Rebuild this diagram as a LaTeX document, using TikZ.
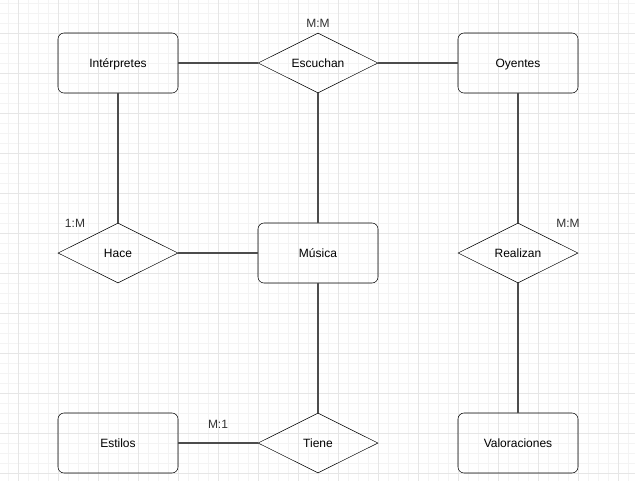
\documentclass[tikz,border=0pt]{standalone}
\usepackage{fontspec}
\setmainfont{Liberation Sans}
\usetikzlibrary{shapes.geometric}
\definecolor{gridmin}{HTML}{F4F4F4}
\definecolor{gridmaj}{HTML}{E6E6E6}
\definecolor{edgegray}{HTML}{4D4D4D}
\definecolor{labgray}{HTML}{333333}

\begin{document}
\begin{tikzpicture}[x=0.75pt, y=-0.75pt, node distance={150pt},
    entity/.style = {draw, rounded corners=4.5pt, minimum width=90pt, minimum height=45pt, text height=8.3pt, text depth=1.5pt, font=\fontsize{9}{11}\selectfont},
    rel/.style = {draw, diamond, aspect=2, minimum width=90pt, minimum height=45pt, inner sep=0pt, text height=8.3pt, text depth=1.5pt, font=\fontsize{9}{11}\selectfont},
    card/.style = {text=labgray, font=\fontsize{9}{11}\selectfont},
    link/.style = {draw=edgegray, line width=0.8pt}]
		\useasboundingbox (0,0) rectangle (635,480);
		\fill[white] (0,0) rectangle (635,480);
		\begin{scope}[shift={(8,3)}]
			\draw[gridmin, line width=0.5pt, step=7.5pt] (-10,-10) grid (640,490);
		\end{scope}
		\begin{scope}[shift={(18,33)}]
			\draw[gridmaj, line width=0.5pt, step=30pt] (-40,-40) grid (640,480);
		\end{scope}
		% entidades y relaciones
		\node[entity] (int) at (118,63) {Intérpretes};
		\node[rel] (esc) [right of=int] {Escuchan};
		\node[entity] (oye) [right of=esc] {Oyentes};
		\node[rel] (hac) [below of=int, node distance=142.5pt] {Hace};
		\node[entity] (mus) [right of=hac] {Música};
		\node[rel] (rea) [right of=mus] {Realizan};
		\node[entity] (est) [below of=hac, node distance=142.5pt] {Estilos};
		\node[rel] (tie) [right of=est] {Tiene};
		\node[entity] (val) [right of=tie] {Valoraciones};
		% cardinalidades
		\node[card] (c1) at (318,23) {M:M};
		\node[card] (c2) at (75,223) {1:M};
		\node[card] (c3) at (568,223) {M:M};
		\node[card] (c4) at (218,424) {M:1};
		% conexiones
		\draw[link] (int) -- (esc);
		\draw[link] (esc) -- (oye);
		\draw[link] (esc) -- (mus);
		\draw[link] (int) -- (hac);
		\draw[link] (hac) -- (mus);
		\draw[link] (oye) -- (rea);
		\draw[link] (rea) -- (val);
		\draw[link] (mus) -- (tie);
		\draw[link] (est) -- (tie);
	\end{tikzpicture}
\end{document}
